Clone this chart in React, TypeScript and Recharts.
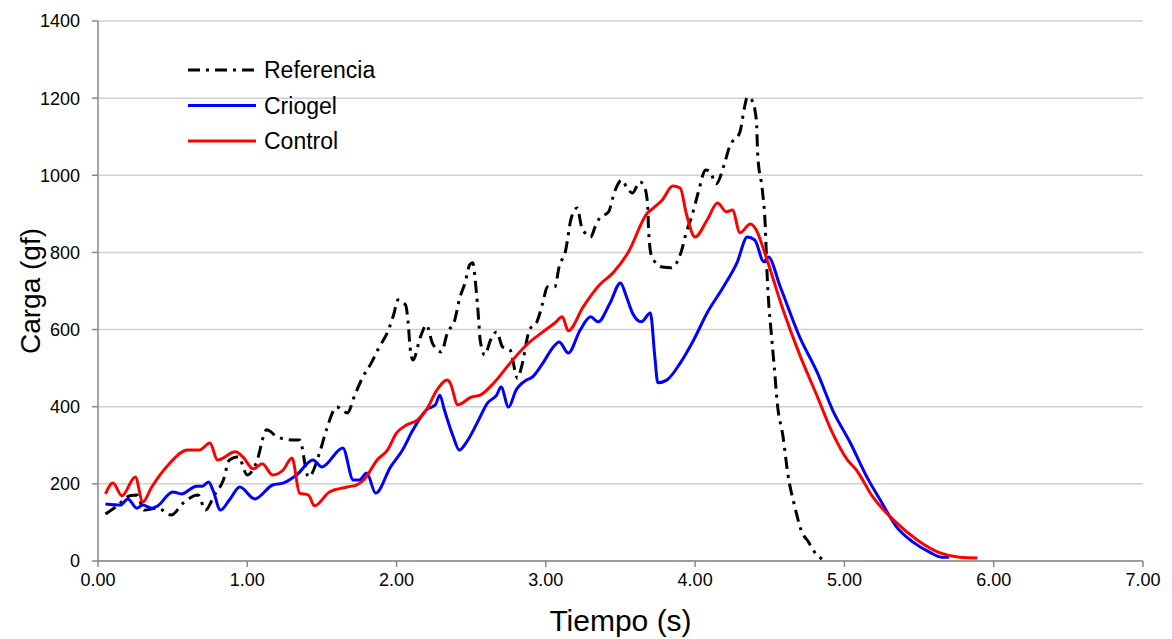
import React from 'react';
import { LineChart, Line, XAxis, YAxis, CartesianGrid } from 'recharts';

const timeRef = [0.05,0.12,0.22,0.26,0.31,0.40,0.49,0.57,0.67,0.72,0.78,0.84,0.88,0.94,1.0,1.06,1.13,1.20,1.30,1.35,1.41,1.49,1.53,1.60,1.67,1.72,1.77,1.83,1.88,1.94,1.98,2.01,2.06,2.08,2.09,2.11,2.16,2.20,2.24,2.30,2.34,2.39,2.42,2.46,2.49,2.51,2.53,2.55,2.56,2.59,2.63,2.67,2.71,2.76,2.81,2.84,2.89,2.94,2.98,3.01,3.06,3.09,3.13,3.17,3.21,3.24,3.30,3.33,3.36,3.42,3.46,3.51,3.54,3.58,3.63,3.66,3.68,3.69,3.71,3.78,3.84,3.91,3.94,3.98,4.02,4.07,4.10,4.14,4.20,4.23,4.30,4.33,4.35,4.38,4.41,4.42,4.45,4.47,4.48,4.49,4.51,4.53,4.55,4.59,4.62,4.67,4.71,4.76,4.80,4.85];
const cargaRef = [122,140,170,171,132,137,119,150,171,132,171,210,262,270,223,254,340,322,314,314,218,288,340,399,384,430,474,513,552,594,638,677,664,607,555,521,581,612,565,542,591,625,677,723,768,773,716,625,573,534,573,594,555,547,474,508,599,620,670,711,711,765,801,889,915,866,840,866,889,905,957,988,970,954,983,970,931,845,788,762,760,806,851,897,954,1014,1009,978,1035,1074,1112,1175,1203,1195,1144,1048,962,866,762,685,591,503,410,319,228,137,80,49,23,5];

const timeCriogel = [0.05,0.15,0.20,0.26,0.30,0.36,0.40,0.50,0.56,0.66,0.70,0.74,0.77,0.82,0.88,0.95,1.05,1.17,1.24,1.33,1.44,1.50,1.64,1.71,1.75,1.80,1.86,1.96,2.04,2.11,2.20,2.26,2.29,2.32,2.38,2.42,2.47,2.54,2.61,2.67,2.70,2.75,2.80,2.87,2.91,2.98,3.05,3.09,3.15,3.23,3.30,3.35,3.43,3.50,3.54,3.58,3.64,3.70,3.73,3.75,3.81,3.90,3.99,4.08,4.19,4.28,4.35,4.40,4.46,4.49,4.57,4.70,4.82,4.92,5.04,5.15,5.24,5.35,5.46,5.57,5.65,5.70];
const cargaCriogel = [148,145,161,137,145,137,143,179,174,194,194,205,184,132,158,192,161,197,202,223,262,244,293,210,210,228,176,244,288,340,392,405,430,392,322,288,309,358,410,430,451,399,443,469,477,513,555,568,539,599,633,620,669,721,685,643,620,643,529,462,469,513,573,643,711,773,840,832,776,788,711,581,487,392,306,218,158,88,49,23,10,10];

const timeControl = [0.05,0.10,0.16,0.25,0.30,0.36,0.47,0.60,0.68,0.75,0.80,0.92,0.97,1.04,1.10,1.17,1.24,1.30,1.35,1.41,1.45,1.55,1.67,1.73,1.78,1.87,1.94,2.00,2.07,2.14,2.20,2.27,2.34,2.36,2.41,2.50,2.56,2.65,2.76,2.87,2.98,3.06,3.11,3.15,3.25,3.36,3.45,3.55,3.68,3.72,3.78,3.85,3.90,3.94,4.00,4.08,4.15,4.21,4.25,4.30,4.37,4.41,4.46,4.59,4.70,4.82,4.92,5.02,5.08,5.19,5.33,5.49,5.64,5.77,5.89];
const cargaControl = [174,202,169,218,153,192,249,288,288,306,262,283,270,239,252,223,236,267,176,171,143,179,192,197,210,262,288,332,353,366,392,443,469,461,405,425,430,461,513,560,594,617,633,597,659,716,747,799,902,915,936,972,967,902,840,884,928,905,910,851,874,858,806,650,535,425,332,262,236,166,106,54,21,10,8];

const xTicks = [0, 1, 2, 3, 4, 5, 6, 7];
const yTicks = [0, 200, 400, 600, 800, 1000, 1200, 1400];

const seriesNames = ['Referencia', 'Criogel', 'Control'];

const zip = (xs: number[], ys: number[]) => xs.map((x, i) => ({ x, y: ys[i] }));
const refData = zip(timeRef, cargaRef);
const criogelData = zip(timeCriogel, cargaCriogel);
const controlData = zip(timeControl, cargaControl);

const legendItems = [
  { name: seriesNames[0], color: '#000000', dash: '12 6 3 6' },
  { name: seriesNames[1], color: '#0000ff', dash: undefined },
  { name: seriesNames[2], color: '#ff0000', dash: undefined },
];

const FONT = 'Liberation Sans, Arial, sans-serif';

export default function App() {
  return (
    <div style={{ position: 'absolute', left: 0, top: 0, width: 1172, height: 639 }}>
      <LineChart width={1172} height={639} margin={{ top: 21, right: 29, bottom: 38, left: 38 }}>
        <CartesianGrid horizontal vertical={false} stroke="#d0d0d0" strokeWidth={1.5} />
        <XAxis
          type="number"
          dataKey="x"
          domain={[0, 7]}
          ticks={xTicks}
          allowDataOverflow
          tickFormatter={(v: number) => v.toFixed(2)}
          stroke="#888"
          strokeWidth={1.5}
          tickSize={6}
          tickMargin={6}
          tick={{ fill: '#000', fontSize: 18, fontFamily: FONT }}
          height={40}
          label={{ value: 'Tiempo (s)', position: 'insideBottom', offset: -30, fill: '#000', fontSize: 30, fontFamily: FONT }}
        />
        <YAxis
          type="number"
          domain={[0, 1400]}
          ticks={yTicks}
          stroke="#888"
          strokeWidth={1.5}
          tickSize={6}
          tickMargin={12}
          width={60}
          tick={{ fill: '#000', fontSize: 18, fontFamily: FONT }}
          label={{ value: 'Carga (gf)', angle: -90, position: 'insideLeft', offset: -8, fill: '#000', fontSize: 28, fontFamily: FONT, style: { textAnchor: 'middle' } }}
        />
        <Line data={refData} dataKey="y" name={seriesNames[0]} type="monotone" stroke="#000" strokeWidth={3} strokeDasharray="12 6 3 6" dot={false} isAnimationActive={false} />
        <Line data={criogelData} dataKey="y" name={seriesNames[1]} type="monotone" stroke="#0000ff" strokeWidth={3} dot={false} isAnimationActive={false} />
        <Line data={controlData} dataKey="y" name={seriesNames[2]} type="monotone" stroke="#ff0000" strokeWidth={3} dot={false} isAnimationActive={false} />
      </LineChart>
      <svg width={240} height={110} style={{ position: 'absolute', left: 180, top: 56 }}>
        {legendItems.map((it, i) => (
          <g key={it.name} transform={`translate(0, ${14 + i * 35.5})`}>
            <line x1={8} y1={0} x2={76} y2={0} stroke={it.color} strokeWidth={3} strokeDasharray={it.dash} />
            <text x={84} y={8} fontSize={23} fontFamily={FONT} fill="#000">{it.name}</text>
          </g>
        ))}
      </svg>
    </div>
  );
}
